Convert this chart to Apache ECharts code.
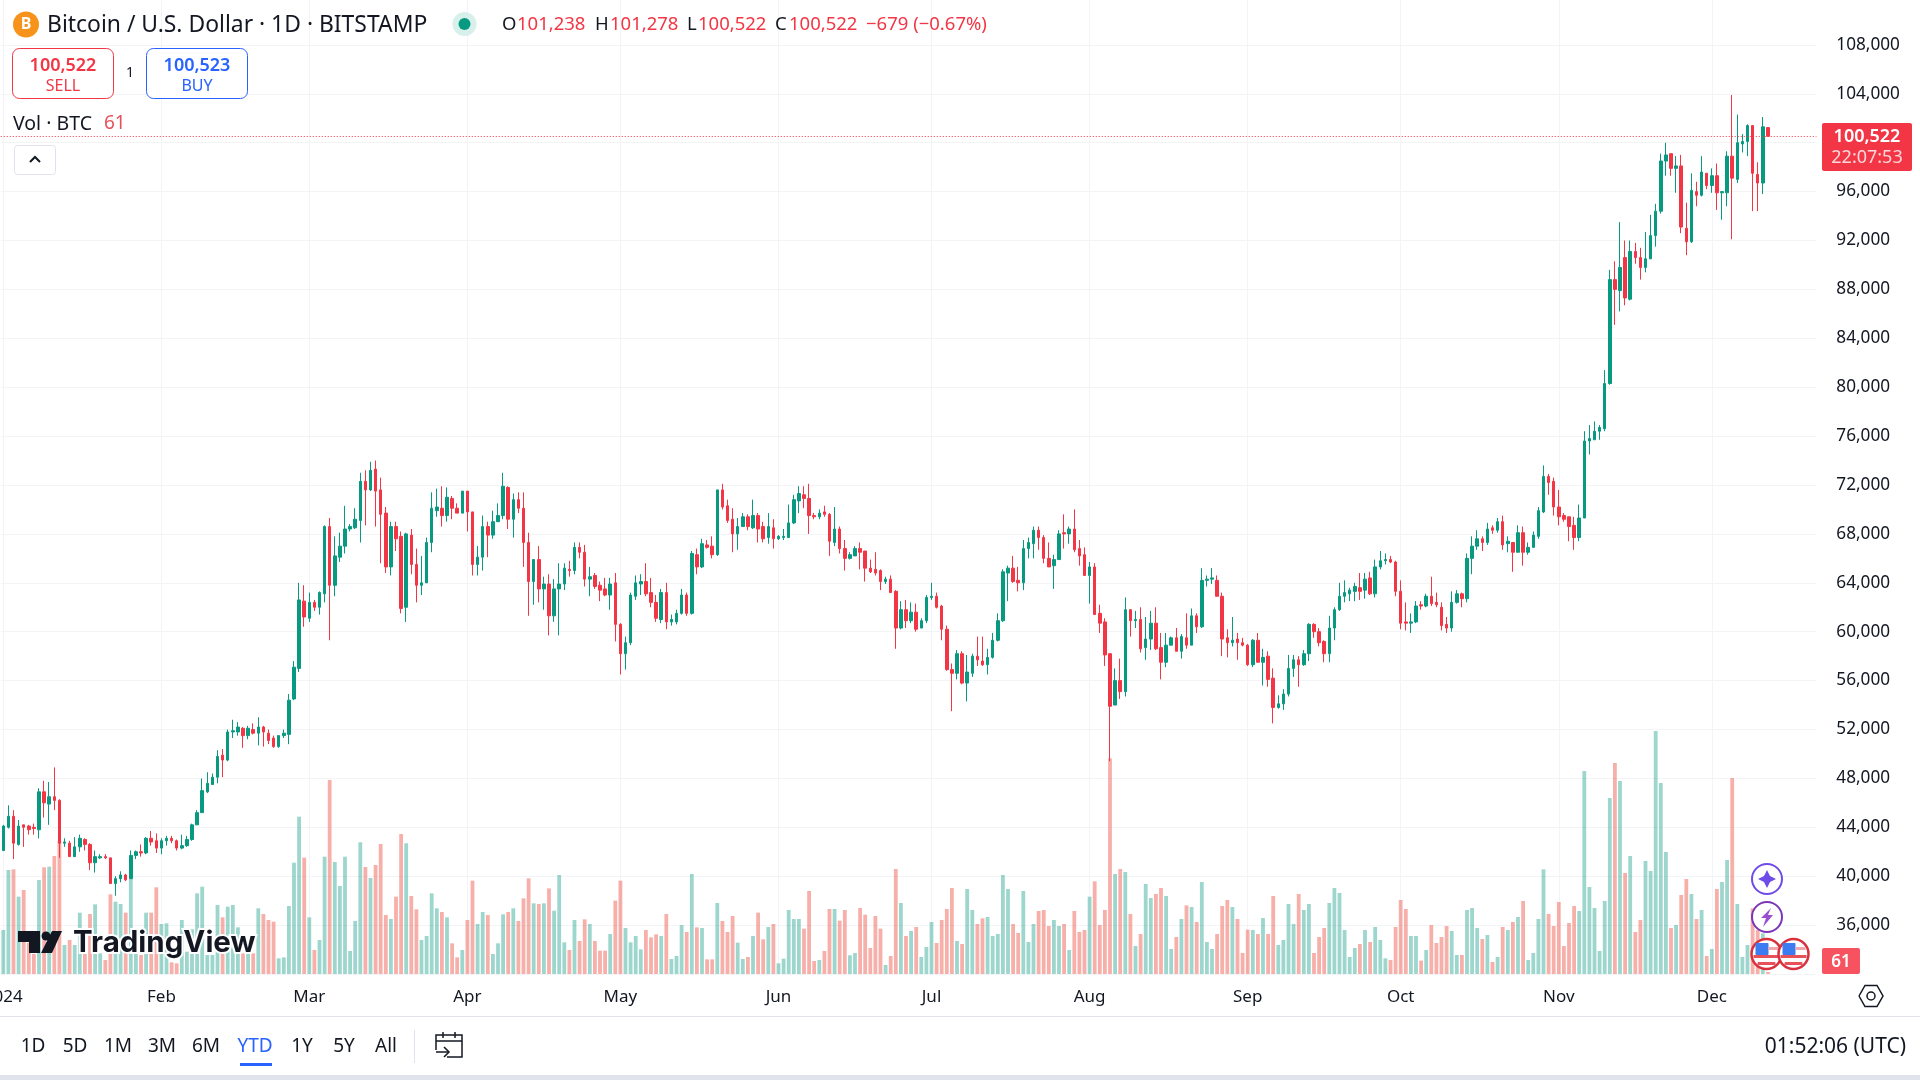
<!DOCTYPE html>
<html>
<head>
<meta charset="utf-8">
<title>BTCUSD</title>
<script src="https://cdn.jsdelivr.net/npm/echarts@6/dist/echarts.min.js"></script>
<style>
html, body { margin: 0; padding: 0; background: #fff; overflow: hidden; }
#main { width: 1920px; height: 1080px; }
</style>
</head>
<body>
<div id="main"></div>
<script>
// daily candles, 2024-01-01 onward, prices in thousand USD
var opens = [
42.1,44.0,44.9,42.6,44.2,44.1,44.0,43.8,46.9,45.9,
46.5,46.2,42.7,42.7,41.6,42.4,43.0,42.6,41.1,41.5,
41.6,41.5,39.4,39.8,40.1,39.8,41.7,42.0,41.9,43.1,
42.9,42.3,42.9,43.1,42.9,42.3,42.5,43.0,44.2,45.2,
46.9,47.5,48.1,49.9,49.5,51.8,51.8,52.1,51.5,52.0,
51.7,52.2,51.7,51.3,50.6,51.5,51.6,54.5,57.0,62.5,
61.1,62.4,62.0,63.1,68.6,63.8,66.1,67.0,68.4,68.5,
69.1,72.3,71.6,73.3,71.6,69.7,65.3,68.6,67.8,62.0,
67.9,65.5,63.8,64.0,67.3,69.9,70.1,69.5,70.9,70.1,
69.7,71.5,69.8,65.5,66.1,68.6,67.9,69.0,69.5,71.8,
69.2,70.8,70.1,67.3,64.1,65.9,63.5,63.9,61.3,63.5,
63.9,65.1,65.0,66.9,66.5,64.3,64.6,63.8,63.5,63.0,
64.0,60.6,58.2,59.1,62.9,63.9,64.1,63.2,62.4,61.0,
63.2,60.8,60.8,61.5,63.0,61.5,66.3,65.3,67.1,67.0,
66.3,71.6,70.3,69.2,68.0,68.6,69.4,68.5,69.5,68.6,
67.7,68.5,67.6,67.7,67.7,68.9,70.7,71.2,70.9,69.5,
69.4,69.8,69.6,67.3,68.4,66.8,66.0,66.2,66.8,66.6,
65.2,65.1,65.0,64.1,64.3,63.3,60.3,61.8,60.9,61.6,
60.3,60.9,62.8,62.9,62.1,60.2,56.9,56.6,58.2,55.8,
56.6,58.0,57.6,57.3,57.9,59.3,60.9,64.8,65.2,64.2,
64.0,66.8,67.2,68.3,67.7,66.0,65.4,65.9,68.1,68.0,
68.4,66.8,66.3,64.6,65.3,61.5,60.8,58.2,54.0,56.0,
55.1,61.8,60.9,61.0,58.7,59.4,60.7,58.7,57.5,58.9,
59.5,58.4,59.5,58.9,61.3,60.4,64.2,64.3,64.2,62.9,
59.5,59.1,59.4,59.1,58.9,57.3,59.3,57.5,58.0,56.2,
53.8,54.1,54.9,57.0,57.7,57.3,58.2,60.6,60.0,59.2,
58.2,60.3,61.8,62.9,63.1,63.3,63.6,63.4,64.4,63.1,
65.3,65.8,65.9,65.7,63.3,60.8,60.7,60.8,62.2,62.1,
62.9,62.4,62.0,60.6,60.3,62.4,63.1,62.7,66.0,67.0,
67.6,67.3,68.5,68.3,69.0,67.2,67.3,66.5,68.1,66.5,
66.9,67.8,69.8,72.7,72.3,70.2,69.5,69.4,68.7,67.7,
69.3,75.6,75.7,76.4,76.6,80.3,88.8,87.9,90.6,87.2,
91.1,90.6,89.8,90.5,92.4,94.4,98.5,99.1,97.9,98.1,
93.0,91.9,96.0,95.7,97.5,96.5,97.3,95.9,95.9,98.9,
97.0,99.9,100.1,101.4,97.4,96.7,101.238
];
var closes = [
44.1,44.9,42.7,44.1,44.0,43.8,43.9,46.9,46.0,46.5,
46.2,42.7,42.8,41.6,42.4,43.1,42.6,41.1,41.6,41.6,
41.5,39.4,39.8,40.1,39.7,41.7,42.0,41.9,43.1,42.8,
42.3,42.9,43.1,42.9,42.3,42.5,43.0,44.2,45.2,47.0,
47.6,48.1,49.8,49.5,51.8,51.9,52.2,51.5,52.1,51.7,
52.2,51.8,51.1,50.6,51.5,51.7,54.4,57.1,62.6,61.2,
62.4,62.0,63.2,68.6,63.8,66.2,67.0,68.4,68.6,69.2,
72.3,71.6,73.2,71.5,69.6,65.3,68.6,67.6,61.9,68.0,
65.5,63.8,64.0,67.3,70.1,70.2,69.5,71.0,70.1,69.7,
71.5,69.8,65.5,66.1,68.6,67.9,69.0,69.5,71.9,69.2,
70.8,70.1,67.3,64.1,65.9,63.5,63.9,61.3,63.5,63.9,
65.2,65.0,66.9,66.5,64.3,64.5,63.7,63.4,63.0,63.9,
60.6,58.2,59.1,63.0,64.0,64.1,63.1,62.4,61.1,63.2,
60.8,61.0,61.5,63.0,61.5,66.4,65.3,67.2,66.9,66.3,
71.6,70.2,69.1,68.0,68.6,69.4,68.6,69.5,68.4,67.6,
68.6,67.6,67.8,67.8,68.9,70.8,71.3,70.9,69.5,69.4,
69.7,69.6,67.4,68.4,66.8,66.0,66.3,66.8,66.5,65.2,
64.9,64.8,64.1,64.3,63.2,60.3,61.8,60.9,61.6,60.2,
60.9,62.8,62.9,62.0,60.2,56.9,56.6,58.2,55.8,56.7,
58.0,57.7,57.3,57.9,59.3,60.9,64.9,65.2,64.1,64.0,
66.8,67.3,68.3,67.7,66.0,65.3,65.9,68.0,68.0,68.4,
66.7,66.2,64.6,65.3,61.4,60.7,58.1,53.9,56.0,55.1,
61.8,60.9,61.0,58.6,59.4,60.7,58.6,57.5,58.9,59.5,
58.4,59.6,58.9,61.3,60.4,64.2,64.3,64.4,62.9,59.4,
59.1,59.3,59.1,58.9,57.3,59.3,57.5,57.9,56.1,53.8,
54.1,54.9,57.0,57.7,57.3,58.2,60.6,60.0,59.1,58.2,
60.3,61.8,62.9,63.2,63.4,63.7,63.3,64.3,63.1,65.3,
65.8,65.9,65.7,63.3,60.7,60.7,60.8,62.1,62.1,62.9,
62.3,62.2,60.5,60.3,62.4,63.1,62.7,66.0,67.0,67.6,
67.3,68.4,68.3,69.0,67.1,67.4,66.5,68.1,66.5,66.9,
67.9,69.9,72.7,72.2,70.2,69.4,69.2,68.6,67.7,69.3,
75.6,75.8,76.4,76.7,80.3,88.8,88.0,89.8,87.3,91.1,
90.6,89.8,90.5,92.4,94.4,98.5,99.0,97.9,98.1,93.1,
91.9,96.1,95.7,97.6,96.5,97.3,95.9,96.0,98.9,97.1,
100.0,100.1,101.4,97.5,96.7,101.3,100.522
];
var highs = [
44.2,45.8,45.4,44.6,44.2,44.2,44.3,47.2,47.8,47.7,
48.9,46.3,43.1,42.9,43.2,43.4,43.1,42.7,42.1,41.8,
41.8,41.5,40.0,40.4,40.2,42.1,42.1,42.6,43.2,43.7,
43.5,43.1,43.3,43.3,43.0,43.4,43.3,44.3,45.4,48.0,
48.5,48.4,50.3,50.4,52.0,52.8,52.6,52.2,52.3,52.5,
53.0,52.3,52.0,51.5,51.5,52.0,54.9,57.6,64.0,63.8,
63.2,62.6,63.3,68.7,69.3,67.8,68.1,70.3,68.8,70.1,
73.0,73.2,73.9,74.0,72.6,70.2,69.0,69.0,68.2,68.1,
68.4,66.8,66.2,67.7,71.4,71.7,71.9,71.8,71.1,70.5,
71.5,71.5,69.8,67.0,69.5,69.0,69.9,70.5,73.0,71.9,
71.3,71.4,71.4,68.1,65.9,67.0,64.5,64.7,64.3,65.6,
65.6,65.8,67.3,67.3,67.1,65.3,64.8,64.1,64.4,64.4,
64.8,60.7,59.6,63.2,64.6,64.7,65.6,64.4,63.0,63.5,
64.0,61.4,61.8,63.5,63.2,66.6,66.8,67.6,67.5,67.8,
71.6,72.1,70.8,70.1,69.3,69.7,69.6,70.8,69.7,69.0,
69.7,69.2,67.9,68.4,70.4,71.2,71.9,71.9,72.1,69.7,
70.0,70.3,69.7,70.2,68.6,67.5,66.5,67.0,67.3,66.6,
65.9,66.5,65.1,64.5,64.6,63.4,62.5,62.6,62.4,62.3,
61.1,63.0,64.0,63.2,62.2,60.5,57.4,58.5,58.4,58.1,
58.2,59.6,59.6,58.6,59.9,61.5,65.1,65.4,66.2,65.3,
67.5,67.7,68.6,68.6,67.9,67.3,66.3,68.3,69.6,68.6,
70.0,67.5,66.9,65.7,65.6,62.2,61.1,58.2,57.0,57.8,
62.8,61.8,61.7,62.0,61.2,61.7,62.0,59.9,59.9,59.6,
60.3,59.8,61.5,61.9,61.5,65.2,64.6,65.2,64.6,63.2,
60.2,61.2,59.9,59.5,59.0,59.4,59.9,58.6,58.4,57.0,
54.8,55.3,58.1,58.1,58.0,58.5,60.7,60.7,60.3,59.3,
61.3,62.0,64.0,64.2,63.6,64.0,64.8,64.8,64.9,65.9,
66.6,66.4,66.2,65.8,64.2,62.4,61.5,62.5,62.5,63.1,
64.5,63.2,62.4,61.2,63.3,63.4,63.2,66.4,67.8,68.3,
67.8,68.9,68.7,69.3,69.5,67.8,67.3,68.7,68.6,67.3,
68.2,70.2,73.6,72.9,72.6,71.6,69.7,69.4,69.4,70.4,
76.4,76.9,77.2,76.9,81.4,89.6,90.3,93.5,92.0,92.0,
91.8,91.4,92.7,94.1,95.0,99.1,100.0,99.1,98.9,99.0,
95.1,97.5,96.8,98.9,97.5,97.9,98.3,96.0,99.3,103.9,
102.3,100.7,101.5,101.4,98.4,102.1,101.278
];
var lows = [
42.1,43.9,41.4,42.5,42.4,43.4,43.4,43.1,44.8,44.2,
45.4,41.5,42.4,41.6,41.6,42.0,42.1,40.5,40.3,41.4,
41.4,39.4,38.4,39.5,39.6,39.8,41.4,41.6,41.8,42.5,
41.9,41.8,42.5,42.7,42.1,42.2,42.4,42.9,44.2,45.2,
46.8,47.5,47.6,48.1,49.4,51.3,51.5,50.5,51.2,51.6,
50.7,50.6,50.8,50.5,50.5,51.3,50.8,54.4,56.7,60.4,
60.8,61.7,61.4,62.4,59.3,62.9,65.7,66.4,68.2,68.4,
67.3,68.7,71.5,68.6,65.6,64.8,64.6,66.6,61.5,60.8,
64.7,62.4,63.0,64.0,66.5,69.4,68.6,69.0,69.2,69.7,
69.7,68.2,64.6,64.6,65.0,66.1,67.6,69.0,69.2,68.4,
67.7,69.7,65.3,61.3,62.2,62.4,61.8,59.7,60.8,59.7,
63.4,64.5,64.7,66.0,63.7,62.9,63.5,62.5,62.9,61.8,
59.2,56.5,56.9,58.9,62.6,63.0,62.9,62.0,60.8,60.7,
60.2,60.5,60.6,61.4,61.3,61.4,64.7,65.2,66.8,66.0,
66.2,70.0,68.9,66.5,66.7,68.6,68.3,68.4,67.3,67.3,
67.2,66.8,67.5,67.5,67.7,68.8,69.7,70.1,68.0,69.2,
69.2,69.4,66.2,67.0,66.4,65.0,65.9,66.2,65.1,64.1,
64.8,64.6,63.4,63.9,63.2,58.6,60.2,60.3,60.7,60.0,
60.3,60.7,62.6,61.9,59.3,56.8,53.5,56.1,55.7,54.3,
56.3,57.2,57.2,56.5,57.8,59.2,60.8,62.5,64.0,63.3,
63.4,66.0,66.0,66.7,65.6,65.3,63.5,65.9,66.8,67.2,
66.5,65.4,64.6,62.3,61.4,59.9,57.2,49.4,54.0,54.5,
54.7,59.6,60.3,58.3,57.7,58.5,58.5,56.1,57.1,58.9,
58.4,57.8,58.6,58.9,59.9,60.3,63.7,63.9,62.9,58.0,
57.9,58.8,57.7,58.8,57.2,57.1,57.5,55.6,55.5,52.5,
53.7,53.6,54.7,56.3,55.5,57.2,57.6,59.5,58.8,57.5,
57.5,59.3,61.7,62.4,62.5,62.5,62.6,62.7,63.0,62.8,
65.1,65.5,65.6,62.9,60.2,60.1,59.9,60.7,61.8,62.0,
62.1,62.0,60.1,59.9,60.0,62.3,62.0,62.4,64.7,66.7,
66.6,67.1,68.0,68.1,66.7,66.5,64.9,66.5,65.4,66.3,
66.9,67.6,69.7,71.2,69.5,68.7,69.0,67.4,66.7,67.4,
69.3,74.5,75.7,75.7,76.4,80.2,85.1,86.2,86.7,87.1,
90.1,88.8,89.4,90.5,91.5,94.2,97.3,97.3,95.9,92.6,
90.8,91.8,94.8,95.6,96.2,95.9,94.5,93.7,94.8,92.1,
96.7,99.2,98.9,94.4,94.4,95.8,100.522
];
// volume in tens of BTC (no scale on the picture except the last bar, 61 BTC)
var volumes = [
132,312,314,232,252,94,60,282,320,322,
354,400,87,102,87,184,60,180,209,62,
42,239,217,210,184,285,62,57,184,184,
260,150,152,35,32,162,67,134,242,262,
57,57,207,170,202,207,140,62,62,62,
197,180,162,157,47,50,204,334,472,349,
170,72,102,352,582,336,264,352,69,159,
395,321,288,327,390,177,165,232,420,392,
234,194,102,114,242,197,186,170,92,50,
72,162,280,150,186,177,60,92,179,186,
197,159,227,287,212,210,212,257,190,297,
95,72,162,99,164,150,99,70,70,120,
220,280,138,95,114,74,132,110,119,114,
180,45,54,147,126,300,140,138,44,44,
213,159,126,174,94,45,51,114,184,104,
141,150,32,46,192,165,165,136,249,39,
42,69,195,195,160,192,56,63,198,178,
78,174,136,27,54,315,213,114,129,141,
51,81,156,93,162,195,258,99,90,255,
192,150,167,171,114,120,297,255,150,123,
249,96,150,189,192,144,162,144,150,72,
189,126,132,232,278,147,192,647,300,315,
306,180,84,120,270,228,240,258,234,75,
111,165,206,201,156,276,96,75,120,204,
222,201,165,63,133,132,120,168,120,234,
87,102,210,150,240,192,210,63,111,138,
213,258,243,132,51,78,90,132,96,141,
102,47,42,141,222,195,114,114,40,72,
147,93,111,144,129,57,57,192,198,138,
105,117,36,51,141,132,156,171,219,42,
63,165,314,180,144,216,84,153,204,189,
609,261,198,69,219,528,633,579,303,354,
126,162,339,309,729,573,366,138,147,237,
285,240,165,192,54,75,255,276,342,588,
210,51,87,197,132,122,6.1
];
var monthLabels = {
    '2024-01-01': '2024', '2024-02-01': 'Feb', '2024-03-01': 'Mar', '2024-04-01': 'Apr',
    '2024-05-01': 'May', '2024-06-01': 'Jun', '2024-07-01': 'Jul', '2024-08-01': 'Aug',
    '2024-09-01': 'Sep', '2024-10-01': 'Oct', '2024-11-01': 'Nov', '2024-12-01': 'Dec'
};
var hiddenTicks = [32000, 100000, 112000];
var lastPrice = 100522;
var rangeLabels = ['1D', '5D', '1M', '3M', '6M', 'YTD', '1Y', '5Y', 'All'];
var rangeCenters = [33, 75, 118, 162, 206, 255, 302, 344, 386];

var UP = '#089981', DOWN = '#f23645', INK = '#131722';
var FONT = '"Noto Sans"';

// 356 slots: the candles plus the empty space to the right of the last one
var dates = [];
for (var d = 0; d < 356; d++) {
    dates.push(new Date(Date.UTC(2024, 0, 1 + d)).toISOString().slice(0, 10));
}

var candleData = opens.map(function (o, i) {
    return [o * 1000, closes[i] * 1000, lows[i] * 1000, highs[i] * 1000];
});
var volumeData = volumes.map(function (v, i) {
    return {
        value: v * 10,
        itemStyle: { color: closes[i] >= opens[i] ? 'rgba(8,153,129,0.4)' : 'rgba(236,72,62,0.44)' }
    };
});
var monthLines = Object.keys(monthLabels).map(function (k) { return { xAxis: k }; });

function txt(x, y, text, fill, size, opts) {
    opts = opts || {};
    return {
        type: 'text', silent: true, z: opts.z || 100,
        style: {
            x: x, y: y, text: text, fill: fill,
            font: (opts.weight || 'normal') + ' ' + size + 'px ' + (opts.family || FONT),
            textAlign: opts.align || 'left', textVerticalAlign: 'middle',
            stroke: opts.stroke, lineWidth: opts.lineWidth, opacity: opts.opacity
        }
    };
}
function box(x, y, w, h, r, fill, stroke) {
    return {
        type: 'rect', silent: true, z: 90,
        shape: { x: x, y: y, width: w, height: h, r: r },
        style: { fill: fill || 'none', stroke: stroke || 'none', lineWidth: 1 }
    };
}
function ring(cx, cy, r, fill, stroke, lw) {
    return {
        type: 'circle', silent: true, z: 90,
        shape: { cx: cx, cy: cy, r: r },
        style: { fill: fill || 'none', stroke: stroke || 'none', lineWidth: lw || 1 }
    };
}
function poly(points, fill, z) {
    return { type: 'polygon', silent: true, z: z || 95, shape: { points: points }, style: { fill: fill } };
}
function line(points, stroke, lw) {
    return {
        type: 'polyline', silent: true, z: 95, shape: { points: points },
        style: { stroke: stroke, lineWidth: lw || 1.5, fill: 'none' }
    };
}
function flag(cx, cy) {
    return [
        ring(cx, cy, 15, '#fff', '#d9303d', 2.5),
        box(cx - 11, cy - 11, 13, 12, 1, '#3d7bf0'),
        box(cx + 2, cy - 7, 10, 3, 0, '#f0a8ac'),
        box(cx - 13, cy + 1, 26, 3, 0, '#e8505a'),
        box(cx - 9, cy + 8, 18, 3, 1, '#e8505a')
    ];
}

var graphics = [
    // header
    ring(26, 24.5, 13, '#f7931a'),
    txt(26, 24.5, 'B', '#fff', 16, { align: 'center', weight: 'bold' }),
    txt(47, 25.5, 'Bitcoin / U.S. Dollar · 1D · BITSTAMP', INK, 22.9),
    ring(464.5, 24, 12, '#d8f0eb'),
    ring(464.5, 24, 6, UP),
    txt(502, 25, 'O', INK, 18.5), txt(517, 25, '101,238', DOWN, 18.5),
    txt(595, 25, 'H', INK, 18.5), txt(610, 25, '101,278', DOWN, 18.5),
    txt(687, 25, 'L', INK, 18.5), txt(698, 25, '100,522', DOWN, 18.5),
    txt(775, 25, 'C', INK, 18.5), txt(789, 25, '100,522', DOWN, 18.5),
    txt(866, 25, '−679 (−0.67%)', DOWN, 18.5),
    // trade buttons
    box(12.5, 48.5, 101, 50, 7, '#fff', DOWN),
    txt(63, 66, '100,522', DOWN, 18, { align: 'center', weight: '600' }),
    txt(63, 86, 'SELL', DOWN, 16, { align: 'center' }),
    txt(130, 73, '1', INK, 14, { align: 'center' }),
    box(146.5, 48.5, 101, 50, 7, '#fff', '#2962ff'),
    txt(197, 66, '100,523', '#2962ff', 18, { align: 'center', weight: '600' }),
    txt(197, 86, 'BUY', '#2962ff', 16, { align: 'center' }),
    txt(13, 124, 'Vol · BTC', INK, 19.5),
    txt(104, 124, '61', '#e8505a', 19),
    box(14.5, 145.5, 41, 29, 3, '#fff', '#e0e3eb'),
    line([[30, 162], [35, 157], [40, 162]], INK, 2),
    // price badge
    box(1822, 123, 90, 48, 2, DOWN),
    txt(1867, 137, '100,522', '#fff', 18, { align: 'center', weight: '600' }),
    txt(1867, 157.5, '22:07:53', '#ffd7da', 18, { align: 'center' }),
    box(1822, 948, 38, 26, 2, '#f7525f'),
    txt(1841, 962, '61', '#fff', 17, { align: 'center', weight: '600' }),
    // logo
    poly([[18, 931], [40, 931], [40, 953], [29, 953], [29, 942], [18, 942]], INK),
    ring(46, 936, 4.5, INK),
    poly([[52, 931], [62, 931], [52, 953], [41, 953]], INK),
    txt(73, 943, 'TradingView', INK, 29.5, { family: 'Inter', weight: 'bold', stroke: '#fff', lineWidth: 4 }),
    // gear and toolbar
    line([[1859, 996], [1865, 985.5], [1877, 985.5], [1883, 996], [1877, 1006.5], [1865, 1006.5], [1859, 996]], INK, 1.5),
    ring(1871, 996, 4, 'none', INK, 1.5),
    { type: 'rect', silent: true, z: 90, shape: { x: 0, y: 1016, width: 1920, height: 1 }, style: { fill: '#e0e3eb' } },
    { type: 'rect', silent: true, z: 90, shape: { x: 0, y: 1075, width: 1920, height: 5 }, style: { fill: '#e0e3eb' } },
    { type: 'rect', silent: true, z: 90, shape: { x: 240, y: 1063, width: 32, height: 3 }, style: { fill: '#2962ff' } },
    { type: 'rect', silent: true, z: 90, shape: { x: 414, y: 1030, width: 1, height: 33 }, style: { fill: '#e0e3eb' } },
    txt(1906, 1047, '01:52:06 (UTC)', INK, 21, { align: 'right' }),
    // date picker icon
    line([[436, 1050], [436, 1035], [462, 1035], [462, 1057], [447, 1057]], INK, 1.5),
    line([[436, 1041], [462, 1041]], INK, 1.5),
    line([[443, 1032], [443, 1038]], INK, 1.5),
    line([[455, 1032], [455, 1038]], INK, 1.5),
    line([[436, 1052], [449, 1052]], INK, 1.5),
    line([[444, 1047], [449, 1052], [444, 1057]], INK, 1.5),
    // side buttons
    ring(1767, 879, 15, '#fff', '#6f4be8', 2),
    poly([[1767, 870], [1770, 876], [1776, 879], [1770, 882], [1767, 888], [1764, 882], [1758, 879], [1764, 876]], '#6f4be8'),
    ring(1767, 917, 15, '#fff', '#7a35b8', 2),
    poly([[1771, 908], [1761, 918], [1766, 918], [1763, 927], [1773, 915], [1768, 915]], '#9a4fd0')
].concat(flag(1766.5, 954), flag(1793.5, 954));

rangeLabels.forEach(function (label, i) {
    graphics.push(txt(rangeCenters[i], 1047, label, label === 'YTD' ? '#2962ff' : INK, 19, { align: 'center' }));
});

var myChart = echarts.init(document.getElementById('main'), null, { renderer: 'canvas' });
var option = {
    animation: false,
    backgroundColor: '#fff',
    textStyle: { fontFamily: FONT },
    grid: { left: 0.75, top: -4, width: 1815.6, height: 978, outerBoundsMode: 'none' },
    xAxis: {
        type: 'category',
        data: dates,
        boundaryGap: true,
        axisLine: { show: false },
        axisTick: { show: false },
        splitLine: { show: false },
        axisLabel: {
            margin: 15,
            fontSize: 17,
            fontFamily: FONT,
            color: INK,
            hideOverlap: false,
            interval: function (index, value) { return !!monthLabels[value]; },
            formatter: function (value) { return monthLabels[value] || ''; }
        }
    },
    yAxis: [
        {
            type: 'value',
            position: 'right',
            min: 32000,
            max: 112000,
            interval: 4000,
            scale: true,
            axisLine: { show: false },
            axisTick: { show: false },
            splitLine: { show: true, lineStyle: { color: '#f3f4f7', width: 1 } },
            axisLabel: {
                margin: 20,
                fontSize: 17.2,
                fontFamily: FONT,
                color: INK,
                padding: [0, 0, 6, 0],
                formatter: function (v) {
                    return hiddenTicks.indexOf(v) >= 0 ? '' : v.toLocaleString('en-US');
                }
            }
        },
        {
            type: 'value',
            min: 0,
            max: 29340,
            show: false
        }
    ],
    graphic: { elements: graphics },
    series: [
        {
            name: 'Vol',
            type: 'bar',
            yAxisIndex: 1,
            barWidth: 3.8,
            z: 2,
            data: volumeData,
            markLine: {
                silent: true,
                symbol: 'none',
                z: 0,
                label: { show: false },
                lineStyle: { color: '#f3f4f7', width: 1, type: 'solid' },
                data: monthLines
            }
        },
        {
            name: 'BTCUSD',
            type: 'candlestick',
            barWidth: 3,
            z: 3,
            itemStyle: {
                color: UP, color0: DOWN,
                borderColor: UP, borderColor0: DOWN,
                borderWidth: 1
            },
            data: candleData,
            markLine: {
                silent: true,
                symbol: 'none',
                label: { show: false },
                lineStyle: { color: DOWN, width: 1, type: [1, 2] },
                data: [{ yAxis: lastPrice }]
            }
        }
    ]
};
myChart.setOption(option);
</script>
</body>
</html>
